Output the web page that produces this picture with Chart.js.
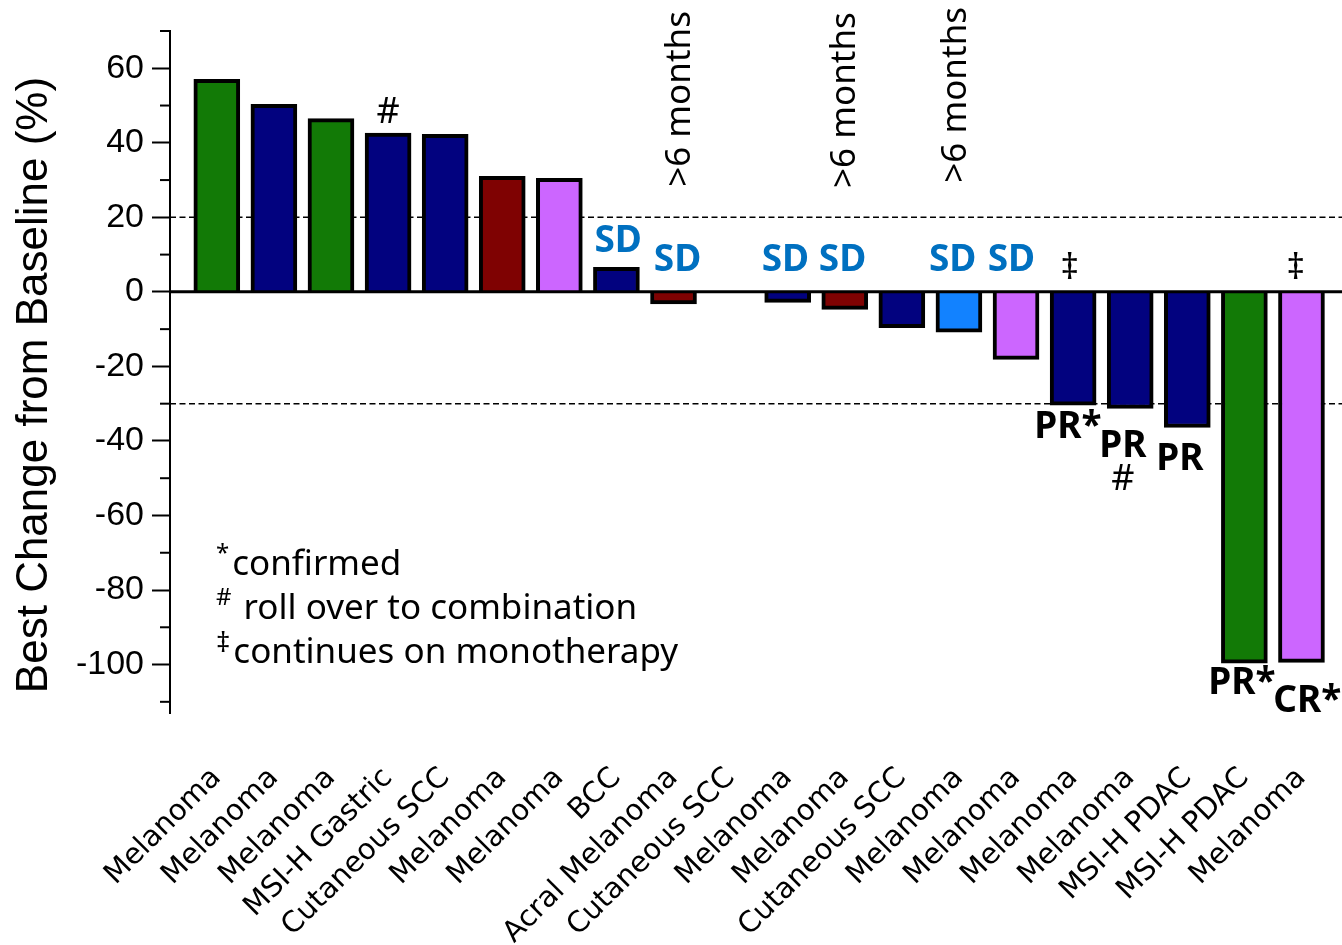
<!DOCTYPE html>
<html>
<head>
<meta charset="utf-8">
<script src="https://cdn.jsdelivr.net/npm/chart.js@4"></script>
<style>
  html, body { margin: 0; padding: 0; background: #fff; }
  #wrap { width: 1342px; height: 945px; }
</style>
</head>
<body>
<div id="wrap"><canvas id="waterfall" width="1342" height="945"></canvas></div>
<script>
// one bar per patient, sorted by best change
const tumours = [
  'Melanoma', 'Melanoma', 'Melanoma', 'MSI-H Gastric', 'Cutaneous SCC',
  'Melanoma', 'Melanoma', 'BCC', 'Acral Melanoma', 'Cutaneous SCC',
  'Melanoma', 'Melanoma', 'Cutaneous SCC', 'Melanoma', 'Melanoma',
  'Melanoma', 'Melanoma', 'MSI-H PDAC', 'MSI-H PDAC', 'Melanoma',
];
const bestChange = [
  57, 50.3, 46.5, 42.6, 42.3, 31, 30.5, 6.6, -3.2, 0,
  -2.8, -4.7, -9.6, -10.8, -18.1, -30.4, -31.3, -36.4, -99.6, -99.4,
];
const cohort = [1, 2, 1, 2, 2, 3, 4, 2, 3, 2, 2, 3, 2, 5, 4, 2, 2, 2, 1, 4];
const cohortColors = { 1: '#127A06', 2: '#02027F', 3: '#7F0202', 4: '#CC66FF', 5: '#1282FF' };

const yTicks = [-110, -100, -90, -80, -70, -60, -50, -40, -30, -20, -10, 0, 10, 20, 30, 40, 50, 60, 70];
const yLabelled = [-100, -80, -60, -40, -20, 0, 20, 40, 60];
const thresholds = [20, -30];
const yTitle = 'Best Change from Baseline (%)';

// text marks, anchored in data units (bar index, % change)
const notes = [
  { text: '#', at: [3, 48], kind: 'sym' },
  { text: 'SD', at: [7.03, 13.5], kind: 'sd' },
  { text: 'SD', at: [8.07, 8.4], kind: 'sd' },
  { text: 'SD', at: [9.96, 8.4], kind: 'sd' },
  { text: 'SD', at: [10.96, 8.4], kind: 'sd' },
  { text: 'SD', at: [12.89, 8.4], kind: 'sd' },
  { text: 'SD', at: [13.92, 8.4], kind: 'sd' },
  { text: '>6 months', at: [8.12, 28.2], kind: 'months' },
  { text: '>6 months', at: [11.01, 27.9], kind: 'months' },
  { text: '>6 months', at: [12.95, 29.3], kind: 'months' },
  { text: '‡', at: [14.94, 6.2], kind: 'sym' },
  { text: '‡', at: [18.9, 6.2], kind: 'sym' },
  { text: 'PR*', at: [14.91, -36.3], kind: 'resp' },
  { text: 'PR', at: [15.87, -41.4], kind: 'resp' },
  { text: '#', at: [15.87, -50.3], kind: 'sym' },
  { text: 'PR', at: [16.87, -44.9], kind: 'resp' },
  { text: 'PR*', at: [17.955, -105.2], kind: 'resp' },
  { text: 'CR*', at: [19.1, -110], kind: 'resp' },
];

const footnotes = [
  ['*', 'confirmed'],
  ['#', ' roll over to combination'],
  ['‡', 'continues on monotherapy'],
];

const noteFonts = {
  sym: ['36px "Noto Sans"', '#000'],
  sd: ['bold 37px "Noto Sans"', '#0070C0'],
  resp: ['bold 37px "Noto Sans"', '#000'],
  months: ['35px "Noto Sans"', '#000'],
};

const annotate = {
  id: 'annotate',
  beforeDatasetsDraw(chart) {
    const { ctx, chartArea: a, scales: { y } } = chart;
    ctx.save();
    ctx.strokeStyle = '#000';
    ctx.lineWidth = 1.5;
    ctx.setLineDash([6, 3.5]);
    thresholds.forEach((t) => {
      const py = y.getPixelForValue(t);
      ctx.beginPath();
      ctx.moveTo(a.left, py);
      ctx.lineTo(a.right, py);
      ctx.stroke();
    });
    ctx.restore();
  },
  afterDatasetsDraw(chart) {
    const { ctx, chartArea: a, scales: { x, y } } = chart;
    ctx.save();
    // zero line
    ctx.strokeStyle = '#000';
    ctx.lineWidth = 3;
    const y0 = y.getPixelForValue(0);
    ctx.beginPath();
    ctx.moveTo(a.left, y0);
    ctx.lineTo(a.right, y0);
    ctx.stroke();

    // minor ticks
    ctx.lineWidth = 2;
    yTicks.filter((v) => !yLabelled.includes(v)).forEach((v) => {
      const py = y.getPixelForValue(v);
      ctx.beginPath();
      ctx.moveTo(a.left - 10, py);
      ctx.lineTo(a.left, py);
      ctx.stroke();
    });

    // axis title, sits a little below the middle of the axis
    ctx.save();
    ctx.fillStyle = '#000';
    ctx.font = '44px "Liberation Sans"';
    ctx.translate(35, (a.top + a.bottom) / 2 + 13);
    ctx.rotate(-Math.PI / 2);
    ctx.textAlign = 'center';
    ctx.textBaseline = 'middle';
    ctx.fillText(yTitle, 0, 0);
    ctx.restore();

    notes.forEach((n) => {
      const px = x.getPixelForValue(n.at[0]);
      const py = y.getPixelForValue(n.at[1]);
      ctx.font = noteFonts[n.kind][0];
      ctx.fillStyle = noteFonts[n.kind][1];
      if (n.kind === 'months') {
        ctx.save();
        ctx.translate(px, py);
        ctx.rotate(-Math.PI / 2);
        ctx.textAlign = 'left';
        ctx.textBaseline = 'middle';
        ctx.fillText(n.text, 0, 0);
        ctx.restore();
      } else {
        ctx.textAlign = 'center';
        ctx.textBaseline = 'middle';
        ctx.fillText(n.text, px, py);
      }
    });

    // footnote key
    ctx.fillStyle = '#000';
    ctx.textAlign = 'left';
    ctx.textBaseline = 'alphabetic';
    const lx = a.left + 46;
    footnotes.forEach(([mark, text], k) => {
      const base = 575 + k * 44;
      if (mark === '‡') {
        ctx.font = '28px "Noto Sans"';
        ctx.fillText(mark, lx, base - 11);
      } else {
        ctx.font = '24px "Noto Sans"';
        ctx.fillText(mark, lx, base - 14);
      }
      const w = ctx.measureText(mark).width;
      ctx.font = '35px "Noto Sans"';
      ctx.fillText(text, lx + w + 3, base);
    });
    ctx.restore();
  },
};

new Chart(document.getElementById('waterfall'), {
  type: 'bar',
  data: {
    datasets: [
      {
        data: bestChange.map((v, i) => ({ x: i, y: v })),
        backgroundColor: cohort.map((c) => cohortColors[c]),
        borderColor: '#000',
        borderWidth: 4,
        barThickness: 46,
      },
    ],
  },
  options: {
    responsive: false,
    animation: false,
    layout: { padding: { top: 31, right: 0, left: 0, bottom: 0 } },
    plugins: { legend: { display: false }, tooltip: { enabled: false } },
    scales: {
      x: {
        type: 'linear',
        offset: false,
        min: -0.82,
        max: 19.71,
        afterBuildTicks: (scale) => {
          scale.ticks = tumours.map((_, i) => ({ value: i }));
        },
        afterFit: (scale) => {
          scale.height = 232;
          scale.paddingLeft = 0;
          scale.paddingRight = 0;
        },
        grid: { display: false, drawTicks: false, offset: false },
        border: { display: false },
        ticks: {
          autoSkip: false,
          minRotation: 45,
          maxRotation: 45,
          padding: 48,
          color: '#000',
          font: { family: '"DejaVu Sans"', size: 29 },
          callback: (value) => tumours[value],
        },
      },
      y: {
        min: -113,
        max: 70,
        afterBuildTicks: (scale) => {
          scale.ticks = yTicks.map((v) => ({ value: v }));
        },
        afterFit: (scale) => {
          scale.width = 170;
        },
        grid: {
          drawOnChartArea: false,
          drawTicks: true,
          tickLength: 18,
          tickWidth: 2,
          tickColor: (ctx) => (ctx.tick && yLabelled.includes(ctx.tick.value) ? '#000' : 'rgba(0,0,0,0)'),
        },
        border: { display: true, color: '#000', width: 2 },
        ticks: {
          autoSkip: false,
          padding: 8,
          color: '#000',
          font: { family: '"Liberation Sans"', size: 34 },
          callback: (value) => (yLabelled.includes(value) ? String(value) : ''),
        },
      },
    },
  },
  plugins: [annotate],
});
</script>
</body>
</html>
